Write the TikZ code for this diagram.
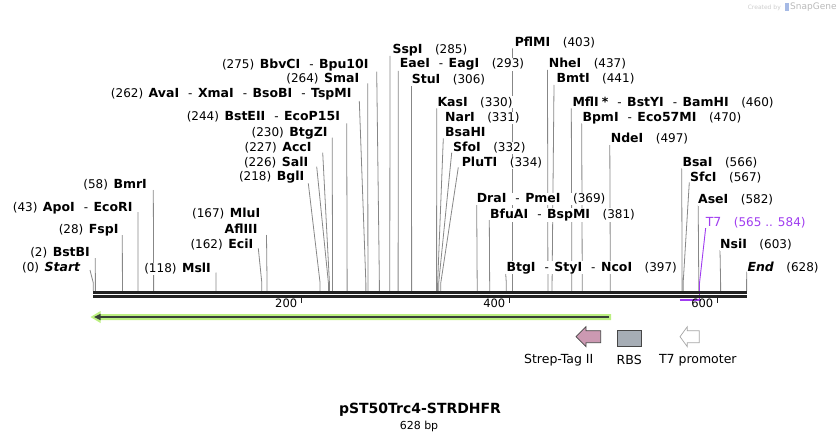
\documentclass[tikz,border=0pt]{standalone}
\usepackage{fontspec}
\setmainfont{DejaVu Sans}
\definecolor{cutgray}{RGB}{135,135,135}
\definecolor{dnablack}{RGB}{34,34,34}
\definecolor{tseven}{RGB}{160,60,240}
\definecolor{glowgreen}{RGB}{188,240,130}
\definecolor{featdark}{RGB}{55,65,55}
\definecolor{strep}{RGB}{204,153,178}
\definecolor{rbsgray}{RGB}{166,173,181}
\definecolor{legborder}{RGB}{70,70,70}
\newcommand{\en}[1]{{\fontsize{12.5}{14}\selectfont\bfseries #1}}
\newcommand{\eni}[1]{{\fontsize{12.5}{14}\selectfont\bfseries\itshape #1}}
\newcommand{\sepd}{\hspace{9pt}-\hspace{5.5pt}}
\newcommand{\lgap}{\hspace{5.5pt}}
\newcommand{\rgap}{\hspace{12.5pt}}
\newcommand{\labfont}{\fontsize{12}{14}\selectfont}
\tikzset{
  lab/.style={inner sep=0.6pt, fill=white, font=\labfont, text=black},
  cutline/.style={draw=cutgray, line width=0.8pt},
  tickmark/.style={draw=dnablack, line width=1.4pt},
  dna/.style={draw=dnablack, line width=3pt},
  legtext/.style={font=\fontsize{12.5}{14}\selectfont, inner sep=0pt},
}
\newcommand{\Llab}[4]{\node[lab,anchor=base east] (#1) at (#2,{#3+4.4}) {#4};}
\newcommand{\Rlab}[4]{\node[lab,anchor=base west] (#1) at (#2,{#3+4.4}) {#4};}
\newcommand{\cutat}[4]{\coordinate (#1-top) at (#2,#3);
  \coordinate (#1-bend) at ({93.3+#4*1.0403},283);
  \coordinate (#1-site) at ({93.3+#4*1.0403},291);
  \draw[cutline] (#1-top) -- (#1-bend) -- (#1-site);}
\begin{document}
\begin{tikzpicture}[x=1pt,y=-1pt]
\useasboundingbox (0,0) rectangle (840,441);
% cut lines
\cutat{start}{90}{270}{0}
\cutat{bstbi}{95.3}{258}{2}
\cutat{fspi}{122.3}{235}{28}
\cutat{apoi}{138}{212}{43}
\cutat{bmri}{153.3}{190}{58}
\cutat{msli}{216}{272.5}{118}
\cutat{ecii}{258.3}{248.3}{162}
\cutat{mlui}{266.5}{235}{167}
\cutat{bgli}{308.3}{183.3}{218}
\cutat{sali}{316.7}{166.7}{226}
\cutat{acci}{322.7}{152.7}{227}
\cutat{btgzi}{332.2}{137.7}{230}
\cutat{bsteii}{346.7}{123.3}{244}
\cutat{avai}{359.3}{101}{262}
\cutat{smai}{367.7}{83.3}{264}
\cutat{bbvci}{376.7}{71.7}{275}
\cutat{sspi}{390}{56}{285}
\cutat{eaei}{398.3}{71}{293}
\cutat{stui}{411.5}{85}{306}
\cutat{kasi}{436.7}{108.3}{330}
\cutat{bsahi}{443.3}{138.3}{331}
\cutat{sfoi}{451.7}{152.7}{332}
\cutat{pluti}{458.3}{167.3}{334}
\cutat{drai}{476.7}{205}{369}
\cutat{bfuai}{489.3}{220}{381}
\cutat{pflmi}{512.5}{48.3}{403}
\cutat{btgi}{505.7}{274}{397}
\cutat{nhei}{547.5}{70}{437}
\cutat{bmti}{554}{85}{441}
\cutat{mfli}{571.3}{108.3}{460}
\cutat{bpmi}{581.7}{123.3}{470}
\cutat{ndei}{609.8}{145}{497}
\cutat{bsai}{681.7}{168.3}{566}
\cutat{sfci}{689.3}{182.3}{567}
\cutat{asei}{698.2}{205}{582}
\cutat{nsii}{720}{250}{603}
\cutat{end}{746.7}{271.7}{628}
% T7 feature
\coordinate (t7top) at (705.7,227.7);
\coordinate (t7bend) at (699.5,283);
\coordinate (t7low) at (699.5,300);
\coordinate (t7a) at (679.5,300);
\coordinate (t7b) at (700.5,300);
\draw[tseven, line width=0.9pt] (t7top) -- (t7bend) -- (t7low);
\draw[tseven, line width=1.8pt] (t7a) -- (t7b);
% DNA
\coordinate (dnaL1) at (93.3,292.5); \coordinate (dnaR1) at (746.7,292.5);
\coordinate (dnaL2) at (93.3,296.7); \coordinate (dnaR2) at (746.7,296.7);
\draw[dna] (dnaL1) -- (dnaR1);
\draw[dna] (dnaL2) -- (dnaR2);
% ticks
\foreach \p/\t in {200/t200,400/t400,600/t600}{
  \coordinate (\t a) at ({93.3+\p*1.0403},297.5);
  \coordinate (\t b) at ({93.3+\p*1.0403},303);
  \draw[tickmark] (\t a) -- (\t b);
  \node[font=\fontsize{11.5}{13}\selectfont, anchor=base east, inner sep=0pt] at ({93.3+\p*1.0403-4},307.5) {\p};
}
% labels left
\Llab{start}{81}{266.7}{(0)\lgap\eni{Start}}
\Llab{bstbi}{90.7}{251.7}{(2)\lgap\en{BstBI}}
\Llab{fspi}{119.3}{229.3}{(28)\lgap\en{FspI}}
\Llab{apoi}{133.3}{206.7}{(43)\lgap\en{ApoI}\sepd\en{EcoRI}}
\Llab{bmri}{147.7}{184}{(58)\lgap\en{BmrI}}
\Llab{msli}{211.7}{268.3}{(118)\lgap\en{MslI}}
\Llab{ecii}{254}{244.3}{(162)\lgap\en{EciI}}
\Llab{mlui}{261}{213.3}{(167)\lgap\en{MluI}}
\Llab{afliii}{258.3}{229.3}{\en{AflIII}}
\Llab{bgli}{305}{176.5}{(218)\lgap\en{BglI}}
\Llab{sali}{309}{162}{(226)\lgap\en{SalI}}
\Llab{acci}{312.3}{147.3}{(227)\lgap\en{AccI}}
\Llab{btgzi}{328.3}{131.7}{(230)\lgap\en{BtgZI}}
\Llab{bsteii}{340.7}{116.5}{(244)\lgap\en{BstEII}\sepd\en{EcoP15I}}
\Llab{avai}{352.3}{93.3}{(262)\lgap\en{AvaI}\sepd\en{XmaI}\sepd\en{BsoBI}\sepd\en{TspMI}}
\Llab{smai}{360}{78.5}{(264)\lgap\en{SmaI}}
\Llab{bbvci}{369.3}{64}{(275)\lgap\en{BbvCI}\sepd\en{Bpu10I}}
% labels right
\Rlab{sspi}{391.7}{49}{\en{SspI}\rgap(285)}
\Rlab{eaei}{399}{63.3}{\en{EaeI}\sepd\en{EagI}\rgap(293)}
\Rlab{stui}{411}{79.3}{\en{StuI}\rgap(306)}
\Rlab{kasi}{436.7}{101.7}{\en{KasI}\rgap(330)}
\Rlab{nari}{444.3}{117.3}{\en{NarI}\rgap(331)}
\Rlab{bsahi}{444.3}{131.7}{\en{BsaHI}}
\Rlab{sfoi}{452.3}{147.3}{\en{SfoI}\rgap(332)}
\Rlab{pluti}{461}{162.3}{\en{PluTI}\rgap(334)}
\Rlab{drai}{476}{198.5}{\en{DraI}\sepd\en{PmeI}\rgap(369)}
\Rlab{bfuai}{489.3}{214}{\en{BfuAI}\sepd\en{BspMI}\rgap(381)}
\Rlab{pflmi}{514}{41.7}{\en{PflMI}\rgap(403)}
\Rlab{btgi}{505.7}{266.7}{\en{BtgI}\sepd\en{StyI}\sepd\en{NcoI}\rgap(397)}
\Rlab{nhei}{548}{63.3}{\en{NheI}\rgap(437)}
\Rlab{bmti}{555.7}{78.3}{\en{BmtI}\rgap(441)}
\Rlab{mfli}{571.7}{101.7}{\en{MflI}\hspace{3pt}\en{*}\sepd\en{BstYI}\sepd\en{BamHI}\rgap(460)}
\Rlab{bpmi}{581.7}{116.7}{\en{BpmI}\sepd\en{Eco57MI}\rgap(470)}
\Rlab{ndei}{610}{138}{\en{NdeI}\rgap(497)}
\Rlab{bsai}{681.7}{162.3}{\en{BsaI}\rgap(566)}
\Rlab{sfci}{689.3}{176.7}{\en{SfcI}\rgap(567)}
\Rlab{asei}{697.3}{199}{\en{AseI}\rgap(582)}
\node[lab,anchor=base west,text=tseven] (t7) at (705,226.1) {{\fontsize{12.5}{14}\selectfont T7}\rgap(565 .. 584)};
\Rlab{nsii}{719.3}{244}{\en{NsiI}\rgap(603)}
\Rlab{endl}{746.7}{266.7}{\eni{End}\rgap(628)}
% green feature arrow
\fill[glowgreen] (90.5,317) -- (100.5,311) -- (100.5,314) -- (611,314) -- (611,320) -- (100.5,320) -- (100.5,323) -- cycle;
\draw[featdark, line width=2pt] (99,317) -- (608.5,317);
\fill[featdark] (94,317) -- (100.5,313.8) -- (100.5,320.2) -- cycle;
% legend
\draw[legborder, line width=0.7pt, fill=strep] (576,336.7) -- (586,326.7) -- (586,330.7) -- (600.7,330.7) -- (600.7,342.7) -- (586,342.7) -- (586,346.7) -- cycle;
\draw[legborder, line width=0.7pt, fill=rbsgray] (617.3,330) rectangle (641.3,346.7);
\draw[gray!70, line width=0.7pt, fill=white] (680,336.7) -- (687.3,326.7) -- (687.3,330.7) -- (699.3,330.7) -- (699.3,342.7) -- (687.3,342.7) -- (687.3,346.7) -- cycle;
\node[legtext] (lstrep) at (558.7,359.8) {Strep-Tag II};
\node[legtext] (lrbs) at (629.2,359.8) {RBS};
\node[legtext] (lt7) at (697.8,359.8) {T7 promoter};
% title
\node[font=\fontsize{14}{16}\selectfont\bfseries, inner sep=0pt] (title) at (420,410) {pST50Trc4-STRDHFR};
\node[font=\fontsize{11}{13}\selectfont, inner sep=0pt] (bp) at (419,426.5) {628 bp};
% watermark
\node[font=\fontsize{6}{7}\selectfont, text=gray!40, anchor=east, inner sep=0pt] (cb) at (781,7.5) {Created by};
\fill[cyan!45!blue!35] (784.5,3.5) rectangle (788.5,11.5);
\node[font=\fontsize{9}{10}\selectfont, text=gray!55, anchor=west, inner sep=0pt] (sg) at (790,7.5) {SnapGene};
\end{tikzpicture}
\end{document}
